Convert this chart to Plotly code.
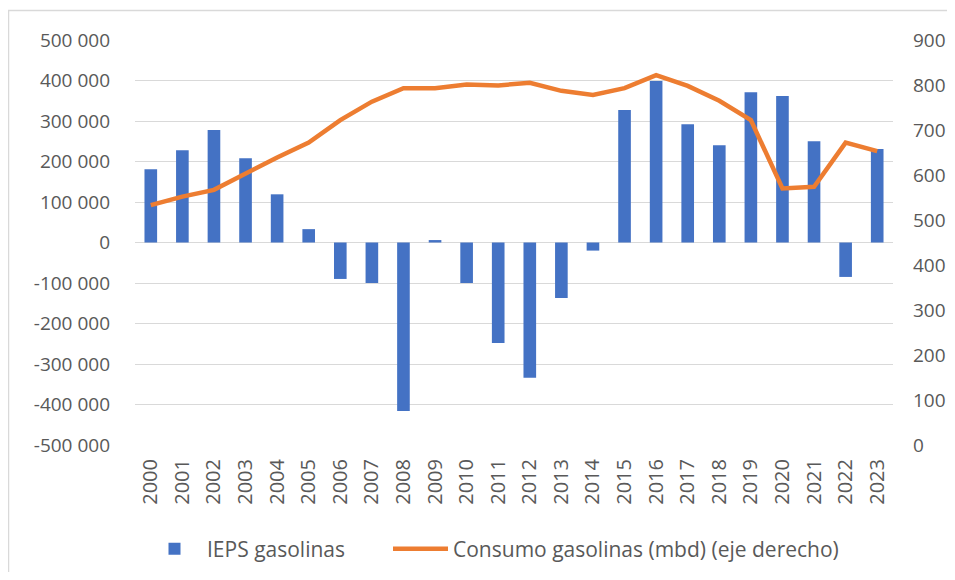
import plotly.graph_objects as go

years = [str(y) for y in range(2000, 2024)]
ieps = [181000, 228000, 278000, 208000, 119000, 33000, -90000, -100000, -416000, 6000,
        -100000, -248000, -334000, -137000, -20000, 327000, 399000, 292000, 240000, 371000,
        362000, 250000, -85000, 231000]
consumo = [533, 552, 567, 604, 639, 672, 722, 763, 793, 793,
           801, 799, 805, 787, 778, 793, 822, 798, 765, 722,
           570, 574, 672, 653]

left_ticks = list(range(-500000, 500001, 100000))
left_labels = [f"{v:,}".replace(",", " ") for v in left_ticks]
right_ticks = list(range(0, 901, 100))

BLUE = "#4472C4"
ORANGE = "#ED7D31"
GRAY = "#595959"
GRID = "#D9D9D9"
FONT = "Open Sans"

fig = go.Figure()
fig.add_trace(go.Bar(x=years, y=ieps, name="IEPS gasolinas", marker=dict(color=BLUE, line=dict(width=0)),
                     yaxis="y", legend="legend"))
fig.add_trace(go.Scatter(x=years, y=consumo, name="Consumo gasolinas (mbd) (eje derecho)", mode="lines",
                         line=dict(color=ORANGE, width=4.5), yaxis="y2", legend="legend2"))

# page body has an 8px margin: figure coords = window coords - 8; keep page inside the window
OFF = 8
W, H = 955 - 2 * OFF, 580 - 2 * OFF
L = 135 - OFF
T = 40 - OFF
R = W - (893 - OFF)
B = H - (445 - OFF)
pw, ph = W - L - R, H - T - B

def px(x):
    return (x - OFF - L) / pw

def py(y):
    return (H - B - (y - OFF)) / ph

leg_y = 1 - (549 - OFF) / H

border_path = "M {x0},{yb} L {x0},{yt} L {x1},{yt}".format(
    x0=px(8.5), yb=py(600), yt=py(10.5), x1=px(1000))

fig.update_layout(
    width=W, height=H,
    margin=dict(l=L, r=R, t=T, b=B, autoexpand=False),
    paper_bgcolor="white", plot_bgcolor="white",
    font=dict(family=FONT, color=GRAY, size=19),
    bargap=0.6,
    showlegend=True,
    legend=dict(orientation="h", xref="container", yref="container",
                x=(142 - OFF) / W, y=leg_y, xanchor="left", yanchor="middle",
                font=dict(size=21, color=GRAY), itemwidth=55,
                bgcolor="rgba(0,0,0,0)"),
    legend2=dict(orientation="h", xref="container", yref="container",
                 x=(388 - OFF) / W, y=leg_y, xanchor="left", yanchor="middle",
                 font=dict(size=21, color=GRAY), itemwidth=55,
                 bgcolor="rgba(0,0,0,0)"),
    xaxis=dict(type="category", tickangle=-90, showgrid=False, showline=False, ticks="",
               tickfont=dict(size=20, color=GRAY), ticklabelstandoff=9, automargin=False),
    yaxis=dict(range=[-500000, 500000], tickvals=left_ticks, ticktext=left_labels,
               showgrid=True, gridcolor=GRID, gridwidth=1.3, zeroline=True, zerolinecolor=GRID,
               zerolinewidth=1.3, showline=False, ticks="", tickfont=dict(size=19, color=GRAY),
               ticklabelstandoff=24, automargin=False),
    yaxis2=dict(range=[0, 900], tickvals=right_ticks, overlaying="y", side="right",
                showgrid=False, zeroline=False, showline=False, ticks="",
                tickfont=dict(size=19, color=GRAY), ticklabelstandoff=19, automargin=False),
    shapes=[dict(type="path", xref="paper", yref="paper", path=border_path,
                 line=dict(color="#D9D9D9", width=1.5), layer="below")],
)

fig.write_html("out.html")
